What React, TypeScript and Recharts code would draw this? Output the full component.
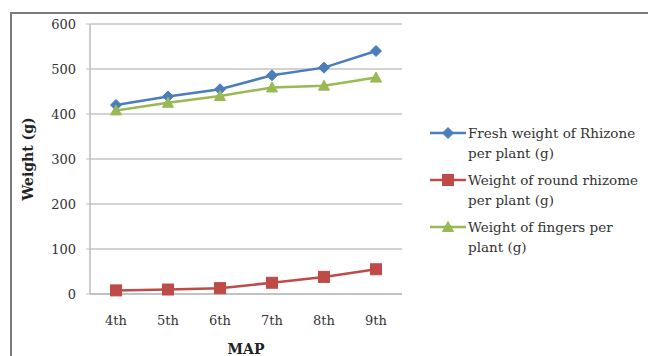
import { LineChart, Line, XAxis, YAxis, CartesianGrid } from 'recharts';

// months after planting
const stages = ['4th', '5th', '6th', '7th', '8th', '9th'];

const freshWeight = [420, 439, 455, 486, 503, 540];
const roundRhizome = [8, 10, 13, 25, 38, 55];
const fingers = [408, 425, 440, 459, 463, 481];

const weightTicks = [0, 100, 200, 300, 400, 500, 600];
const stageBounds = [0, 1, 2, 3, 4, 5, 6];

const seriesNames = [
  'Fresh weight of Rhizone per plant (g)',
  'Weight of round rhizome per plant (g)',
  'Weight of fingers per plant (g)',
];

const BLUE = '#4a7ebb';
const RED = '#be4b48';
const GREEN = '#98b954';

const FONT = '"DejaVu Serif", "Liberation Serif", serif';

const data = stages.map((s, i) => ({
  stage: s,
  fresh: freshWeight[i],
  round: roundRhizome[i],
  fingers: fingers[i],
}));

const Marker = ({ kind, cx, cy, color }: { kind: string; cx: number; cy: number; color: string }) => {
  if (kind === 'diamond') {
    return <path d={`M${cx},${cy - 5.5}L${cx + 5.5},${cy}L${cx},${cy + 5.5}L${cx - 5.5},${cy}Z`} fill={color} stroke={color} />;
  }
  if (kind === 'square') {
    return <rect x={cx - 5.5} y={cy - 5.5} width={11} height={11} fill={color} stroke={color} />;
  }
  return <path d={`M${cx},${cy - 5.5}L${cx + 5.5},${cy + 4.5}L${cx - 5.5},${cy + 4.5}Z`} fill={color} stroke={color} />;
};

const dotFor = (kind: string, color: string) => (props: any) => (
  <Marker key={`${kind}-${props.index}`} kind={kind} cx={props.cx} cy={props.cy} color={color} />
);

const legendItems = [
  { name: seriesNames[0], color: BLUE, kind: 'diamond' },
  { name: seriesNames[1], color: RED, kind: 'square' },
  { name: seriesNames[2], color: GREEN, kind: 'triangle' },
];

// legend sits to the right of the plot, outside the chart's own layout
const LegendBox = () => (
  <div style={{ position: 'absolute', left: 428, top: 123, fontFamily: FONT, fontSize: 13.5, color: '#333' }}>
    {legendItems.map((item) => (
      <div key={item.name} style={{ display: 'flex', alignItems: 'flex-start', marginBottom: 7 }}>
        <svg width={40} height={20} style={{ flexShrink: 0 }}>
          <line x1={2} y1={10} x2={38} y2={10} stroke={item.color} strokeWidth={2.5} />
          <Marker kind={item.kind} cx={20} cy={10} color={item.color} />
        </svg>
        <div style={{ width: 176, lineHeight: '20px' }}>{item.name}</div>
      </div>
    ))}
  </div>
);

export default function App() {
  return (
    <div style={{ position: 'relative', width: 648, height: 356, overflow: 'hidden', background: '#fff' }}>
      <style>{'body { margin: 0; }'}</style>
      <div
        style={{
          position: 'absolute',
          left: 10,
          top: 12,
          width: 700,
          height: 400,
          borderTop: '2px solid #7a7a7a',
          borderLeft: '2px solid #7a7a7a',
        }}
      />
      <LineChart
        width={648}
        height={356}
        data={data}
        margin={{ top: 24, right: 246, bottom: 0, left: 0 }}
        style={{ position: 'absolute', left: 0, top: 0 }}
      >
        <CartesianGrid vertical={false} stroke="#c4c4c4" strokeWidth={1.5} />
        <XAxis
          xAxisId="bounds"
          type="number"
          domain={[0, 6]}
          ticks={stageBounds}
          tick={false}
          axisLine={false}
          tickLine={{ stroke: '#bdbdbd' }}
          tickSize={5}
          height={0}
        />
        <XAxis
          dataKey="stage"
          padding={{ left: 26, right: 26 }}
          height={62}
          axisLine={{ stroke: '#bdbdbd', strokeWidth: 1.5 }}
          tickLine={false}
          tickSize={6}
          tickMargin={16}
          tick={{ fill: '#333', fontSize: 13, fontFamily: FONT }}
          label={{ value: 'MAP', position: 'insideBottom', offset: 2, fill: '#222', fontSize: 14, fontWeight: 'bold', fontFamily: FONT }}
        />
        <YAxis
          domain={[0, 600]}
          ticks={weightTicks}
          width={90}
          axisLine={{ stroke: '#bdbdbd', strokeWidth: 1.5 }}
          tickLine={{ stroke: '#bdbdbd' }}
          tickSize={4}
          tickMargin={10}
          tick={{ fill: '#333', fontSize: 13, fontFamily: FONT }}
          label={{
            value: 'Weight (g)',
            angle: -90,
            position: 'insideLeft',
            offset: 28,
            fill: '#222',
            fontSize: 14,
            fontWeight: 'bold',
            fontFamily: FONT,
            style: { textAnchor: 'middle' },
          }}
        />
        <Line name={seriesNames[0]} dataKey="fresh" stroke={BLUE} strokeWidth={2.5} dot={dotFor('diamond', BLUE)} isAnimationActive={false} />
        <Line name={seriesNames[1]} dataKey="round" stroke={RED} strokeWidth={2.5} dot={dotFor('square', RED)} isAnimationActive={false} />
        <Line name={seriesNames[2]} dataKey="fingers" stroke={GREEN} strokeWidth={2.5} dot={dotFor('triangle', GREEN)} isAnimationActive={false} />
      </LineChart>
      <LegendBox />
    </div>
  );
}
